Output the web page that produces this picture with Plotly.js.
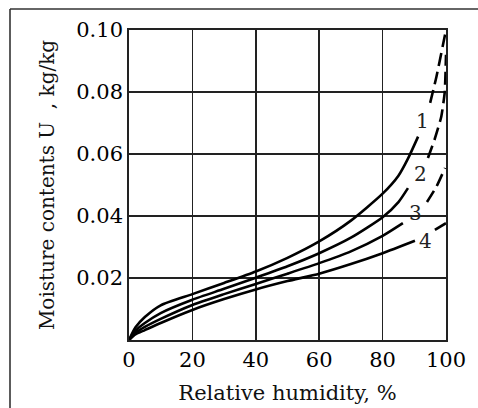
<!DOCTYPE html>
<html>
<head>
<meta charset="utf-8">
<script src="https://cdn.plot.ly/plotly-3.0.1.min.js"></script>
<style>html,body{margin:0;padding:0;background:#fff;}#chart{width:478px;height:408px;}</style>
</head>
<body>
<div id="chart"></div>
<script>
// Relative humidity (%) – solid parts of the curves
const rh1 = [0, 2, 5, 10, 20, 30, 40, 50, 60, 70, 80, 85, 88, 91.2];
const u1  = [0, 0.0040, 0.0074, 0.0112, 0.0148, 0.0184, 0.0221, 0.0265, 0.0318, 0.0385, 0.0472, 0.0530, 0.0585, 0.0656];
const rh2 = [0, 2, 5, 10, 20, 30, 40, 50, 60, 70, 80, 85, 88];
const u2  = [0, 0.0030, 0.0055, 0.0087, 0.0130, 0.0165, 0.0201, 0.0238, 0.0280, 0.0330, 0.0396, 0.0445, 0.0490];
const rh3 = [0, 2, 5, 10, 20, 30, 40, 50, 60, 70, 80, 86.4];
const u3  = [0, 0.0022, 0.0042, 0.0068, 0.0113, 0.0148, 0.0181, 0.0214, 0.0248, 0.0286, 0.0336, 0.0377];
const rh4 = [0, 2, 5, 10, 20, 30, 40, 50, 60, 70, 80, 90.2];
const u4  = [0, 0.0018, 0.0032, 0.0055, 0.0097, 0.0132, 0.0163, 0.0190, 0.0214, 0.0245, 0.0280, 0.0320];
// dashed extrapolated parts near saturation
const rh1d = [95, 97, 99, 100];
const u1d  = [0.0765, 0.0850, 0.0950, 0.1000];
const rh2d = [94.3, 96.5, 98.5, 99.6, 100];
const u2d  = [0.0587, 0.0650, 0.0720, 0.0800, 0.0920];
const rh3d = [94.0, 97, 99.7];
const u3d  = [0.0445, 0.0495, 0.0555];
const rh4d = [96.5, 100];
const u4d  = [0.0355, 0.0377];
const curveLabels = ['1', '2', '3', '4'];
const xTicks = [0, 20, 40, 60, 80, 100];
const yTicks = [0.02, 0.04, 0.06, 0.08, 0.10];
const yTickText = ['0.02', '0.04', '0.06', '0.08', '0.10'];

const lineStyle = {color: '#000', width: 2.6, shape:'spline', smoothing:0.6};
const dashStyle = {color: '#000', width: 2.6, dash: '13px,6px', shape:'spline', smoothing:0.5};
const solid = [[rh1,u1],[rh2,u2],[rh3,u3],[rh4,u4]];
const dashed = [[rh1d,u1d],[rh2d,u2d],[rh3d,u3d],[rh4d,u4d]];
const traces = [];
solid.forEach((s,i)=>traces.push({x:s[0], y:s[1], mode:'lines', line:lineStyle, hoverinfo:'skip', name:curveLabels[i]}));
dashed.forEach((s,i)=>traces.push({x:s[0], y:s[1], mode:'lines', line:dashStyle, hoverinfo:'skip', name:curveLabels[i]+' ext'}));

const labelPos = [[92.7,0.0705],[91.8,0.0535],[90.5,0.041],[93.4,0.0318]];
const annotations = curveLabels.map((t,i)=>({x:labelPos[i][0], y:labelPos[i][1], text:t, showarrow:false,
  font:{family:'DejaVu Serif, serif', size:20, color:'#222'}}));

const serif = 'DejaVu Serif, Liberation Serif, serif';
const layout = {
  width:478, height:408,
  margin:{l:129, r:32, t:30, b:68},
  paper_bgcolor:'#fff', plot_bgcolor:'#fff',
  showlegend:false,
  xaxis:{range:[0,100], tickvals:xTicks, ticktext:xTicks.map(String), showgrid:true, gridcolor:'#222', gridwidth:1.6,
    zeroline:false, showline:true, linecolor:'#222', linewidth:1.8, mirror:true, ticks:'', ticklen:0,
    tickfont:{family:serif, size:21, color:'#000'},
    title:{text:'Relative humidity, %', font:{family:serif, size:21, color:'#111'}, standoff:14}},
  yaxis:{range:[0,0.1], tickvals:yTicks, ticktext:yTickText, showgrid:true, gridcolor:'#222', gridwidth:1.6,
    zeroline:false, showline:true, linecolor:'#222', linewidth:1.8, mirror:true, ticks:'', ticklen:0,
    tickfont:{family:serif, size:21, color:'#000'},
    title:{text:'Moisture contents U  , kg/kg', font:{family:serif, size:20, color:'#111'}, standoff:16}},
  annotations: annotations,
  shapes:[
    {type:'line', xref:'paper', yref:'paper', x0:-0.3754, x1:1.2, y0:1.0677, y1:1.0677, line:{color:'#333', width:1.6}},
    {type:'line', xref:'paper', yref:'paper', x0:-0.3754, x1:-0.3754, y0:1.0677, y1:-0.3, line:{color:'#333', width:1.6}}
  ]
};
Plotly.newPlot('chart', traces, layout, {staticPlot:true, displayModeBar:false});
</script>
</body>
</html>
